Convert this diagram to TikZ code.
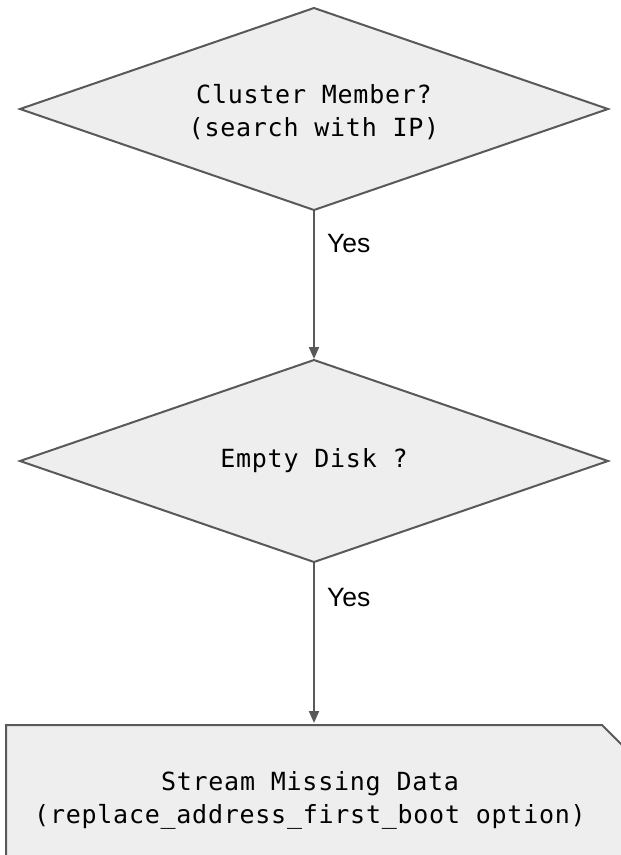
\documentclass[tikz,border=0pt]{standalone}
\usepackage{fontspec}
\setmainfont{Liberation Sans}
\newfontfamily\flowmono[LetterSpace=3]{DejaVu Sans Mono}
\usetikzlibrary{shapes.geometric,arrows.meta}
\definecolor{edgegray}{HTML}{595959}
\definecolor{shapefill}{HTML}{EEEEEE}
\tikzset{
  decision/.style={diamond, aspect=2.91, draw=edgegray, fill=shapefill, line width=2pt,
    minimum width=588pt, minimum height=202pt, inner sep=0pt, outer sep=0pt,
    align=center, font=\flowmono\fontsize{25}{33}\selectfont},
  processbox/.style={draw=edgegray, fill=shapefill, line width=2pt, line join=miter},
  boxtext/.style={align=center, inner sep=0pt, font=\flowmono\fontsize{25}{33}\selectfont},
  flow/.style={draw=edgegray, line width=2pt, shorten >=1pt,
    -{Triangle[width=10pt,length=12pt]}},
  answer/.style={font=\fontsize{26.5}{30}\selectfont, anchor=base west, inner sep=0pt},
}
\begin{document}
\begin{tikzpicture}[x=1pt,y=-1pt]
\useasboundingbox (0,0) rectangle (621,855);

% decisions
\node[decision] (member) at (314,109) {\rule{0pt}{24.5pt}Cluster Member?\\(search with IP)};
\node[decision] (empty) at (314,461) {Empty Disk ?};

% process box with a cut top-right corner, running off the page
\path[processbox] (6,725) -- (602,725) -- (680,803) -- (680,900) -- (6,900) -- cycle;
\coordinate (streamtop) at (314,724);
\node[boxtext] (stream) at (310,800) {Stream Missing Data\\(replace\_address\_first\_boot option)};

% connectors
\draw[flow] (member.south) -- (empty.north);
\draw[flow] (empty.south) -- (streamtop);

\node[answer] (yes1) at (327,252) {Yes};
\node[answer] (yes2) at (327,606) {Yes};
\end{tikzpicture}
\end{document}
